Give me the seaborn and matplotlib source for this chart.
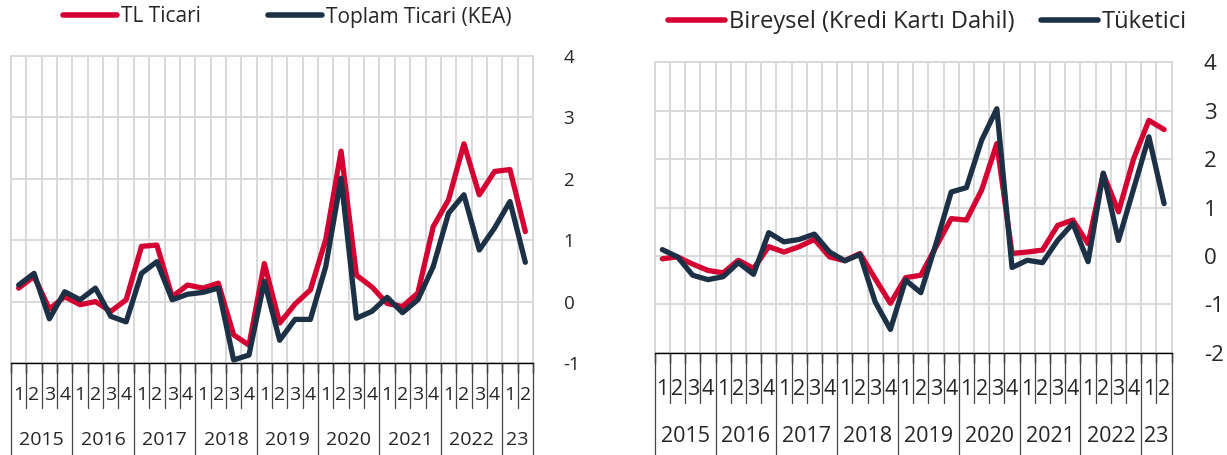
import numpy as np
import pandas as pd
import matplotlib
matplotlib.use("Agg")
import matplotlib.pyplot as plt
import seaborn as sns
from matplotlib.lines import Line2D

# ---------------- data ----------------
quarters = ["1", "2", "3", "4"] * 8 + ["1", "2"]
years = ["2015", "2016", "2017", "2018", "2019", "2020", "2021", "2022", "23"]
year_lengths = [4, 4, 4, 4, 4, 4, 4, 4, 2]

tl_ticari = [0.22, 0.41, -0.12, 0.08, -0.05, 0.00, -0.16, 0.03, 0.90, 0.92,
             0.08, 0.27, 0.22, 0.30, -0.54, -0.71, 0.62, -0.35, -0.04, 0.19,
             1.01, 2.45, 0.43, 0.24, -0.03, -0.08, 0.14, 1.22, 1.66, 2.57,
             1.74, 2.12, 2.15, 1.14]
toplam_ticari = [0.27, 0.46, -0.28, 0.16, 0.03, 0.22, -0.24, -0.33, 0.46, 0.65,
                 0.03, 0.12, 0.15, 0.22, -0.95, -0.87, 0.33, -0.63, -0.29, -0.29,
                 0.57, 2.01, -0.27, -0.16, 0.07, -0.18, 0.03, 0.57, 1.44, 1.74,
                 0.84, 1.20, 1.63, 0.64]

bireysel = [-0.06, -0.02, -0.17, -0.30, -0.35, -0.09, -0.26, 0.19, 0.08, 0.19,
            0.34, -0.02, -0.10, 0.05, -0.47, -0.98, -0.45, -0.40, 0.19, 0.77,
            0.74, 1.36, 2.32, 0.05, 0.08, 0.12, 0.63, 0.74, 0.25, 1.70,
            0.91, 2.01, 2.80, 2.61]
tuketici = [0.13, -0.02, -0.40, -0.49, -0.43, -0.14, -0.38, 0.48, 0.29, 0.34,
            0.45, 0.08, -0.10, 0.03, -0.95, -1.52, -0.50, -0.76, 0.25, 1.32,
            1.41, 2.39, 3.04, -0.24, -0.09, -0.14, 0.32, 0.67, -0.12, 1.71,
            0.32, 1.39, 2.46, 1.08]

left_names = ["TL Ticari", "Toplam Ticari (KEA)"]
right_names = ["Bireysel (Kredi Kartı Dahil)", "Tüketici"]

RED = "#D50032"
NAVY = "#1C3145"
GRID = "#D9D9D9"
TXT = "#262626"

sns.set_theme(style="white")
plt.rcParams["font.family"] = ["Open Sans", "DejaVu Sans"]
plt.rcParams["axes.unicode_minus"] = False

fig = plt.figure(figsize=(12.27, 4.55), dpi=100)
W, H = 1227, 455


def make_axes(x0, x1, ytop, ybot):
    return fig.add_axes([x0 / W, (H - ybot) / H, (x1 - x0) / W, (ybot - ytop) / H])


def draw_panel(ax, s1, s2, names, ylim, tick_fs, lab_fs, q_off, y_off, q_sep, ypad):
    n = len(s1)
    df = pd.DataFrame({
        "idx": list(range(n)) * 2,
        "value": list(s1) + list(s2),
        "series": [names[0]] * n + [names[1]] * n,
    })
    sns.lineplot(data=df, x="idx", y="value", hue="series",
                 palette={names[0]: RED, names[1]: NAVY},
                 linewidth=3.8, legend=False, ax=ax,
                 solid_capstyle="round", solid_joinstyle="round")
    ax.set_xlim(-0.5, n - 0.5)
    ax.set_ylim(*ylim)
    ax.set_xlabel("")
    ax.set_ylabel("")
    ax.set_xticks(np.arange(-0.5, n, 1.0))
    ax.set_xticklabels([])
    ax.set_yticks(np.arange(ylim[0], ylim[1] + 1, 1))
    ax.grid(True, color=GRID, linewidth=1.4)
    ax.set_axisbelow(True)
    ax.tick_params(axis="x", which="both", bottom=True, length=7, width=1.0,
                   color="black", direction="out")
    ax.yaxis.tick_right()
    ax.tick_params(axis="y", length=0, pad=ypad, labelsize=tick_fs, labelcolor=TXT)
    for sp in ["left", "top", "right"]:
        ax.spines[sp].set_color(GRID)
        ax.spines[sp].set_linewidth(1.4)
    ax.spines["bottom"].set_color("black")
    ax.spines["bottom"].set_linewidth(1.0)

    tr = ax.get_xaxis_transform()
    for i, q in enumerate(quarters):
        ax.text(i, q_off, q, transform=tr, ha="center", va="center",
                fontsize=lab_fs, color=TXT)
    boundaries = np.cumsum([0] + year_lengths)
    for k, yl in enumerate(years):
        c = (boundaries[k] + boundaries[k + 1] - 1) / 2
        ax.text(c, y_off, yl, transform=tr, ha="center", va="center",
                fontsize=lab_fs, color=TXT)
    ybottom = -(ax.get_position().y0 * H) / (ax.get_position().height * H)
    for b in range(n + 1):
        x = b - 0.5
        if b in boundaries:
            ax.plot([x, x], [0, ybottom], transform=tr, color="#444444",
                    linewidth=0.9, clip_on=False)
        else:
            ax.plot([x, x], [0, q_sep], transform=tr, color="#444444",
                    linewidth=0.9, clip_on=False)


axL = make_axes(11, 533, 56, 363)
draw_panel(axL, tl_ticari, toplam_ticari, left_names, (-1, 4), 13.5, 14,
           -32 / 307, -77 / 307, -45 / 307, 22)

axR = make_axes(654.7, 1171.7, 62.3, 352.7)
draw_panel(axR, bireysel, tuketici, right_names, (-2, 4), 16, 15.5,
           -37 / 290.4, -84 / 290.4, -50 / 290.4, 23)


def legend_for(names, anchor, fs, hl, htp, cs):
    handles = [Line2D([], [], color=RED, linewidth=4.0, solid_capstyle="round"),
               Line2D([], [], color=NAVY, linewidth=4.0, solid_capstyle="round")]
    fig.legend(handles, names, loc="center left", bbox_to_anchor=anchor,
               ncol=2, frameon=False, fontsize=fs, handlelength=hl,
               handletextpad=htp, columnspacing=cs, borderpad=0,
               borderaxespad=0, labelcolor=TXT)


legend_for(left_names, (63 / W, 1 - 17 / H), 15, 2.6, 0.2, 3.2)
legend_for(right_names, (668 / W, 1 - 22 / H), 17, 2.4, 0.17, 1.15)

fig.savefig("out.png", dpi=100)
